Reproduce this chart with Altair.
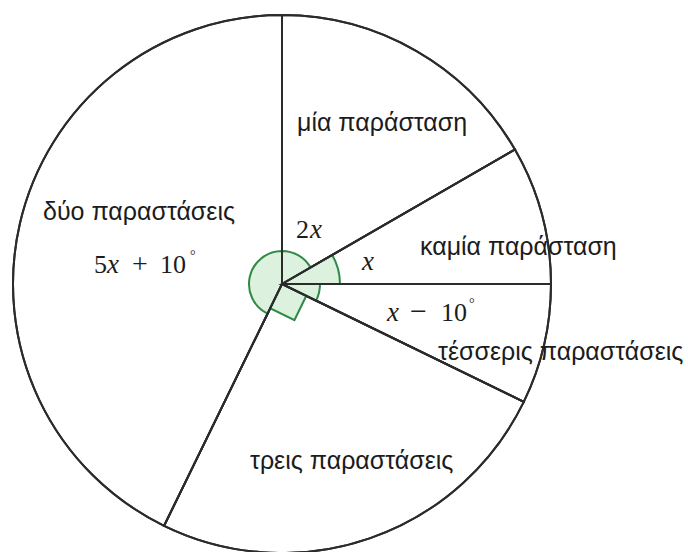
import math
import altair as alt
import pandas as pd

# Pie slices, listed clockwise from 12 o'clock (degrees of the full circle)
categories = ["μία παράσταση", "καμία παράσταση", "τέσσερις παραστάσεις",
              "τρεις παραστάσεις", "δύο παραστάσεις"]
degrees = [60, 30, 26, 90, 154]
angle_names = ["2x", "x", "x − 10°", "90°", "5x + 10°"]

# ---- layout / style ----
W, H = 688, 552
CX, CY, R = 282, 284, 269
LINE = "#2b2b2b"
GREEN_STROKE = "#2f8a45"
GREEN_FILL = "#dcf1de"
SANS = "Liberation Sans"
SERIF = "Liberation Serif"

# radius of the angle marker drawn in each slice
marker_radius = {"μία παράσταση": 33, "καμία παράσταση": 58,
                 "τέσσερις παραστάσεις": 38, "δύο παραστάσεις": 33}
SQUARE_SIDE = 27

ends = pd.Series(degrees).cumsum()
slices = pd.DataFrame({
    "category": categories,
    "deg": degrees,
    "name": angle_names,
    "start": ends - pd.Series(degrees),
    "end": ends,
})

theta_scale = alt.Scale(domain=[0, 360], range=[0, 2 * math.pi])
base = alt.Chart(slices)

pie_fill = base.mark_arc(radius=R, fill="white", stroke=LINE, strokeWidth=2).encode(
    theta=alt.Theta("start:Q", scale=theta_scale),
    theta2="end:Q",
    x=alt.value(CX), y=alt.value(CY),
)

markers_df = slices[slices["category"].isin(marker_radius)].copy()
markers_df["r"] = markers_df["category"].map(marker_radius)
markers = alt.Chart(markers_df).mark_arc(
    fill=GREEN_FILL, stroke=GREEN_STROKE, strokeWidth=2
).encode(
    theta=alt.Theta("start:Q", scale=theta_scale),
    theta2="end:Q",
    radius=alt.Radius("r:Q", scale=None),
    x=alt.value(CX), y=alt.value(CY),
)

# right-angle square for the 90° slice, rotated to sit between its two radii
right = slices[slices["deg"] == 90].iloc[0]
rot = float(right["start"]) - 90
square = alt.Chart(slices[slices["deg"] == 90]).mark_point(
    shape="M0,0L1,0L1,1L0,1Z", size=(2 * SQUARE_SIDE) ** 2, angle=rot,
    filled=True, fill=GREEN_FILL, stroke=GREEN_STROKE, strokeWidth=2, opacity=1,
).encode(x=alt.value(CX), y=alt.value(CY))

pie_lines = base.mark_arc(radius=R, fill=None, stroke=LINE, strokeWidth=2).encode(
    theta=alt.Theta("start:Q", scale=theta_scale),
    theta2="end:Q",
    x=alt.value(CX), y=alt.value(CY),
)

# category names (left edge, baseline)
label_pos = {"μία παράσταση": (297, 131), "δύο παραστάσεις": (43, 220),
             "καμία παράσταση": (420, 255), "τέσσερις παραστάσεις": (438, 360),
             "τρεις παραστάσεις": (250, 469)}
names_df = pd.DataFrame({
    "text": categories,
    "lx": [label_pos[c][0] for c in categories],
    "ly": [label_pos[c][1] for c in categories],
})
names = alt.Chart(names_df).mark_text(
    font=SANS, fontSize=25, color="#1c1c1c", align="left", baseline="alphabetic"
).encode(
    x=alt.X("lx:Q", scale=None), y=alt.Y("ly:Q", scale=None), text="text:N"
)

# angle expressions, typeset piece by piece (italic variable, upright numbers)
math_pieces = [
    ("2", 296, 238, "normal", 26), ("x", 310, 238, "italic", 27),
    ("x", 362, 270, "italic", 27),
    ("x", 387, 321, "italic", 27), ("−", 410, 321, "normal", 30),
    ("10", 441, 321, "normal", 26), ("°", 469, 308, "normal", 14),
    ("5", 94, 273, "normal", 26), ("x", 107, 273, "italic", 27),
    ("+", 132, 273, "normal", 28), ("10", 160, 273, "normal", 26),
    ("°", 190, 260, "normal", 14),
]
math_df = pd.DataFrame(math_pieces, columns=["text", "lx", "ly", "style", "size"])


def math_layer(style):
    return alt.Chart(math_df[math_df["style"] == style]).mark_text(
        font=SERIF, fontStyle=style, color="#1c1c1c", align="left",
        baseline="alphabetic"
    ).encode(
        x=alt.X("lx:Q", scale=None), y=alt.Y("ly:Q", scale=None),
        text="text:N", size=alt.Size("size:Q", scale=None, legend=None),
    )


chart = alt.layer(
    pie_fill, markers, square, pie_lines, names,
    math_layer("normal"), math_layer("italic"),
).properties(
    width=W, height=H, padding=0, autosize="none", background="white"
).configure_view(stroke=None)

chart.save("out.html", embed_options={"renderer": "svg", "actions": False})
